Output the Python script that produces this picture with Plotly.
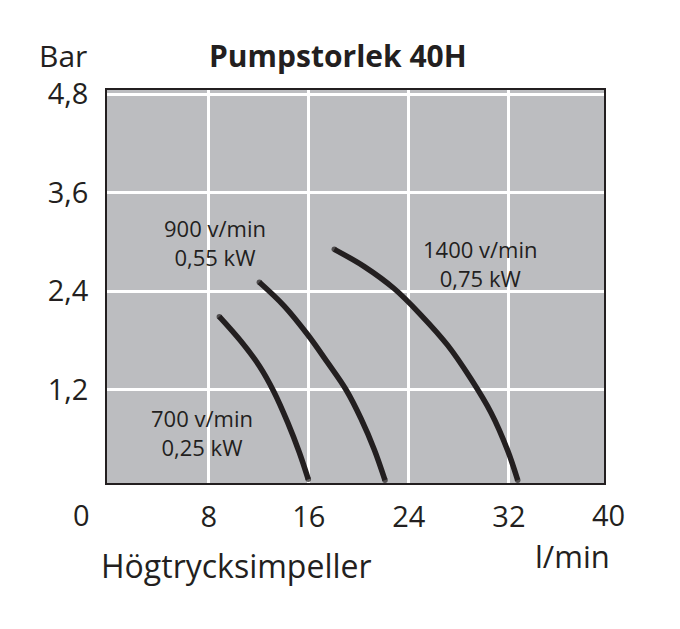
import plotly.graph_objects as go

# Curve data (flow l/min, pressure bar)
x_700 = [8.85, 10.58, 12.05, 13.20, 14.32, 15.24, 15.96]
y_700 = [2.09, 1.79, 1.49, 1.18, 0.80, 0.44, 0.11]

x_900 = [12.05, 14.04, 15.92, 17.51, 18.98, 20.17, 21.24, 22.09]
y_900 = [2.51, 2.22, 1.87, 1.53, 1.20, 0.85, 0.47, 0.10]

x_1400 = [18.04, 20.44, 22.84, 24.97, 27.11, 28.97, 30.57, 31.90, 32.70]
y_1400 = [2.91, 2.70, 2.43, 2.11, 1.74, 1.33, 0.92, 0.46, 0.10]

x_ticks = [8, 16, 24, 32]
x_ticktext = ["8", "16", "24", "32"]
y_ticks = [1.2, 2.4, 3.6, 4.8]
y_ticktext = ["1,2", "2,4", "3,6", "4,8"]

labels = ["700 v/min<br>0,25 kW", "900 v/min<br>0,55 kW", "1400 v/min<br>0,75 kW"]
label_x = [7.5, 8.5, 29.7]
label_y = [0.68, 2.99, 2.74]

INK = "#231f20"
FONT = "Open Sans"

fig = go.Figure()
for xs, ys in [(x_700, y_700), (x_900, y_900), (x_1400, y_1400)]:
    sizes = [5.5] + [0] * (len(xs) - 2) + [5.5]
    fig.add_trace(go.Scatter(
        x=xs, y=ys, mode="lines+markers",
        line=dict(color=INK, width=5.5, shape="spline", smoothing=1.0),
        marker=dict(size=sizes, color=INK, line=dict(width=0)),
        hoverinfo="skip", showlegend=False, cliponaxis=False,
    ))

for t, lx, ly in zip(labels, label_x, label_y):
    fig.add_annotation(x=lx, y=ly, xref="x", yref="y", text=t, showarrow=False,
                       font=dict(family=FONT, size=22, color=INK),
                       align="center", xanchor="center", yanchor="middle")

# Extra texts
fig.add_annotation(x=1.010, y=-0.081, xref="paper", yref="paper", text="40", showarrow=False,
                   font=dict(family=FONT, size=29, color=INK), xanchor="center", yanchor="middle")
fig.add_annotation(x=-0.052, y=-0.081, xref="paper", yref="paper", text="0", showarrow=False,
                   font=dict(family=FONT, size=29, color=INK), xanchor="center", yanchor="middle")
fig.add_annotation(x=-0.036, y=1.088, xref="paper", yref="paper", text="Bar", showarrow=False,
                   font=dict(family=FONT, size=30, color=INK), xanchor="right", yanchor="middle")
fig.add_annotation(x=0.465, y=1.088, xref="paper", yref="paper", text="<b>Pumpstorlek 40H</b>",
                   showarrow=False, font=dict(family=FONT, size=30, color=INK),
                   xanchor="center", yanchor="middle")
fig.add_annotation(x=-0.016, y=-0.211, xref="paper", yref="paper", text="Högtrycksimpeller",
                   showarrow=False, font=dict(family=FONT, size=32, color=INK),
                   xanchor="left", yanchor="middle")
fig.add_annotation(x=0.936, y=-0.186, xref="paper", yref="paper", text="l/min",
                   showarrow=False, font=dict(family=FONT, size=31, color=INK),
                   xanchor="center", yanchor="middle")

fig.update_layout(
    width=680, height=629,
    margin=dict(l=99, r=84, t=82, b=154),
    paper_bgcolor="white", plot_bgcolor="#bcbdc0",
    font=dict(family=FONT, color=INK),
)
fig.update_xaxes(range=[-0.13, 39.6], tickvals=x_ticks, ticktext=x_ticktext,
                 showgrid=True, gridcolor="white", gridwidth=2.5, zeroline=False,
                 showline=True, linecolor=INK, linewidth=1.5, mirror=True,
                 ticks="", ticklabelstandoff=7, tickfont=dict(family=FONT, size=29, color=INK))
fig.update_yaxes(range=[0.065, 4.85], tickvals=y_ticks, ticktext=y_ticktext,
                 showgrid=True, gridcolor="white", gridwidth=2.5, zeroline=False,
                 showline=True, linecolor=INK, linewidth=1.5, mirror=True,
                 ticks="", ticklabelstandoff=11, tickfont=dict(family=FONT, size=29, color=INK))

fig.write_html("out.html")
